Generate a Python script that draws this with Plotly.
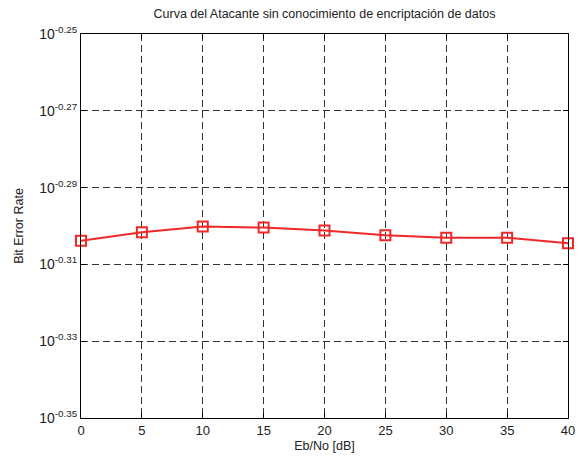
import plotly.graph_objects as go

ebno = [0, 5, 10, 15, 20, 25, 30, 35, 40]
ber = [0.4968, 0.4993, 0.5010, 0.5007, 0.4998, 0.4984, 0.4977, 0.4977, 0.4960]

y_exps = [-0.35, -0.33, -0.31, -0.29, -0.27, -0.25]
y_ticktext = ["10<sup>%.2f</sup>" % e for e in y_exps]
x_ticks = [0, 5, 10, 15, 20, 25, 30, 35, 40]

fig = go.Figure()
fig.add_trace(go.Scatter(
    x=ebno, y=ber, mode="lines+markers",
    line=dict(color="#f02828", width=2),
    marker=dict(symbol="square-open", size=10, color="#f02828", line=dict(width=2)),
    showlegend=False,
    cliponaxis=False,
))

font = dict(family="Liberation Sans, Arial, sans-serif", size=13, color="#222")
fig.update_layout(
    width=580, height=461,
    margin=dict(l=81, r=12, t=34, b=43),
    paper_bgcolor="white", plot_bgcolor="white",
    font=font,
    title=dict(text="Curva del Atacante sin conocimiento de encriptación de datos",
               x=0.5, xref="paper", xanchor="center", y=1, yref="container",
               yanchor="top", pad=dict(t=9), font=dict(size=12.5, color="#222")),
    xaxis=dict(
        range=[0, 40], tickvals=x_ticks, ticktext=[str(v) for v in x_ticks],
        showline=True, linecolor="black", linewidth=1, mirror="allticks",
        ticks="inside", ticklen=5, tickcolor="black",
        showgrid=True, gridcolor="#333", griddash="7px,4px", gridwidth=1,
        zeroline=False, automargin=False,
        title=dict(text="Eb/No [dB]", standoff=4, font=dict(size=12.5)),
    ),
    yaxis=dict(
        type="log", range=[-0.35, -0.25],
        tickvals=[10 ** e for e in y_exps], ticktext=y_ticktext,
        tickfont=dict(size=14),
        showline=True, linecolor="black", linewidth=1, mirror="allticks",
        ticks="inside", ticklen=5, tickcolor="black",
        showgrid=True, gridcolor="#333", griddash="7px,4px", gridwidth=1,
        zeroline=False, automargin=False,
        title=dict(text="Bit Error Rate", standoff=12, font=dict(size=12.5)),
    ),
)

fig.write_html("out.html")
